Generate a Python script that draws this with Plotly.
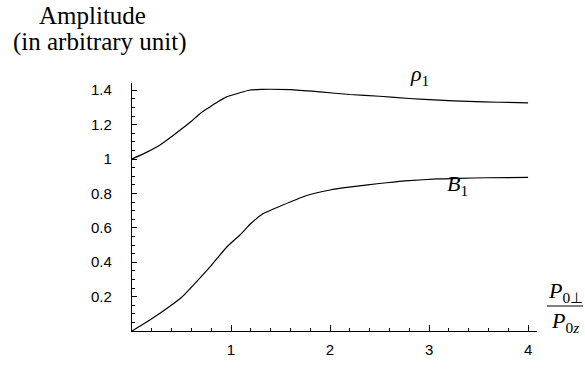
import plotly.graph_objects as go

# ---- data ----
x_rho = [0, 0.15, 0.28, 0.4, 0.49, 0.6, 0.69, 0.78, 0.86, 0.95, 1.09, 1.18, 1.3,
         1.6, 1.9, 2.2, 2.5, 2.8, 3.1, 3.4, 3.7, 4.0]
rho1 = [1.0, 1.04, 1.08, 1.13, 1.17, 1.22, 1.265, 1.30, 1.33, 1.36, 1.385, 1.40, 1.405,
        1.403, 1.39, 1.375, 1.365, 1.352, 1.342, 1.335, 1.33, 1.327]

x_b = [0, 0.18, 0.33, 0.49, 0.62, 0.79, 0.96, 1.09, 1.2, 1.33, 1.5, 1.75, 2.0,
       2.17, 2.38, 2.57, 2.8, 3.08, 3.3, 3.58, 4.0]
b1 = [0, 0.064, 0.122, 0.19, 0.267, 0.374, 0.49, 0.558, 0.625, 0.684, 0.727, 0.785, 0.82,
      0.835, 0.85, 0.862, 0.874, 0.884, 0.888, 0.891, 0.893]

x_tickvals = [1, 2, 3, 4]
x_ticktext = ["1", "2", "3", "4"]
y_tickvals = [0.2, 0.4, 0.6, 0.8, 1.0, 1.2, 1.4]
y_ticktext = ["0.2", "0.4", "0.6", "0.8", "1", "1.2", "1.4"]

W, H = 585, 370
ML, MR, MT, MB = 132, 48, 83, 39
PW, PH = W - ML - MR, H - MT - MB


def px(xp):
    return (xp - ML) / PW


def py(yp):
    return (H - MB - yp) / PH


fig = go.Figure()
fig.add_trace(go.Scatter(x=x_rho, y=rho1, mode="lines",
                         line=dict(color="black", width=1.2, shape="spline", smoothing=0.6),
                         showlegend=False, hoverinfo="skip"))
fig.add_trace(go.Scatter(x=x_b, y=b1, mode="lines",
                         line=dict(color="black", width=1.2, shape="spline", smoothing=0.6),
                         showlegend=False, hoverinfo="skip"))

tickfont = dict(family="Liberation Sans, Arial, sans-serif", size=15, color="black")
serif = "Liberation Serif, Times New Roman, serif"

fig.update_layout(
    width=W, height=H,
    margin=dict(l=ML, r=MR, t=MT, b=MB),
    paper_bgcolor="white", plot_bgcolor="white",
    xaxis=dict(range=[0, 4.09], showgrid=False, zeroline=False,
               showline=True, linecolor="black", linewidth=1.2,
               tickmode="array", tickvals=x_tickvals, ticktext=x_ticktext,
               ticks="inside", ticklen=6, tickwidth=1, tickcolor="black",
               tickfont=tickfont, ticklabelstandoff=5,
               minor=dict(dtick=0.2, tick0=0, ticks="inside", ticklen=3,
                          tickwidth=1, tickcolor="black", showgrid=False)),
    yaxis=dict(range=[0, 1.442], showgrid=False, zeroline=False,
               showline=True, linecolor="black", linewidth=1.2,
               tickmode="array", tickvals=y_tickvals, ticktext=y_ticktext,
               ticks="inside", ticklen=5, tickwidth=1, tickcolor="black",
               tickfont=tickfont, ticklabelstandoff=16,
               minor=dict(dtick=0.05, tick0=0, ticks="inside", ticklen=3,
                          tickwidth=1, tickcolor="black", showgrid=False)),
    annotations=[
        dict(text="Amplitude", xref="paper", yref="paper", x=px(92), y=py(15),
             showarrow=False, xanchor="center", yanchor="middle",
             font=dict(family=serif, size=25, color="black")),
        dict(text="(in arbitrary unit)", xref="paper", yref="paper", x=px(100), y=py(42),
             showarrow=False, xanchor="center", yanchor="middle",
             font=dict(family=serif, size=25, color="black")),
        dict(text="<i>ρ</i><sub>1</sub>", xref="paper", yref="paper", x=px(419), y=py(75),
             showarrow=False, xanchor="center", yanchor="middle",
             font=dict(family=serif, size=22, color="black")),
        dict(text="<i>B</i><sub>1</sub>", xref="paper", yref="paper", x=px(457), y=py(185),
             showarrow=False, xanchor="center", yanchor="middle",
             font=dict(family=serif, size=22, color="black")),
        dict(text="<i>P</i><sub>0⊥</sub>", xref="paper", yref="paper", x=px(565), y=py(292),
             showarrow=False, xanchor="center", yanchor="middle",
             font=dict(family=serif, size=22, color="black")),
        dict(text="<i>P</i><sub>0<i>z</i></sub>", xref="paper", yref="paper", x=px(565), y=py(322),
             showarrow=False, xanchor="center", yanchor="middle",
             font=dict(family=serif, size=22, color="black")),
    ],
    shapes=[
        dict(type="line", xref="paper", yref="paper", x0=px(547), x1=px(583),
             y0=py(306), y1=py(306), line=dict(color="black", width=1.2)),
    ],
)

fig.write_html("out.html", config={"displayModeBar": False},
               post_script="document.body.style.margin='0';document.body.style.overflow='hidden';")
